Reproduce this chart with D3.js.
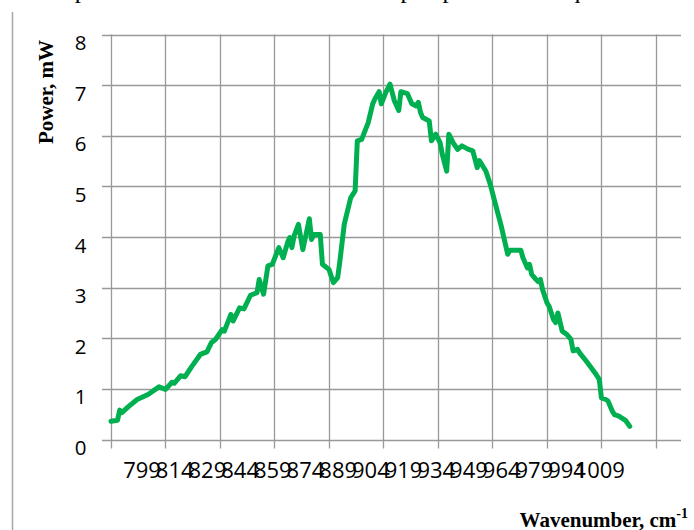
<!DOCTYPE html>
<html>
<head>
<meta charset="utf-8">
<script src="https://cdn.jsdelivr.net/npm/d3@7"></script>
<style>
    html, body { margin: 0; padding: 0; background: #fff; overflow: hidden; }
    svg { display: block; }
</style>
</head>
<body>
<svg id="chart" width="694" height="530"></svg>
<script>
// wavenumber (cm-1) and output power (mW)
let wavenumbers = [785, 788, 789, 790, 793, 797, 802, 807, 810, 813, 814, 817, 819, 822, 826, 829, 831, 833, 836, 837,
    840, 841, 844, 846, 849, 852, 853, 855, 857, 859, 862, 864, 866, 867, 868, 869, 871, 873, 876, 877,
    878, 881, 882, 885, 886, 887, 889, 890, 892, 895, 897, 898, 900, 903, 905, 906, 908, 909, 911, 913,
    915, 917, 918, 921, 923, 925, 926, 927, 928, 931, 932, 934, 936, 937, 939, 940, 942, 944, 946, 949,
    951, 953, 954, 957, 959, 961, 964, 967, 968, 970, 973, 974, 976, 977, 978, 980, 981, 982, 983, 985,
    986, 987, 988, 989, 990, 992, 994, 996, 997, 999, 1000, 1003, 1007, 1009, 1010, 1012, 1013, 1015, 1016, 1018,
    1021, 1023];
let power = [0.36, 0.38, 0.58, 0.53, 0.65, 0.79, 0.89, 1.04, 0.99, 1.13, 1.11, 1.26, 1.24, 1.44, 1.68, 1.73, 1.91, 1.98, 2.17, 2.14,
    2.47, 2.34, 2.60, 2.58, 2.85, 2.90, 3.16, 2.87, 3.43, 3.46, 3.79, 3.59, 3.89, 3.99, 3.79, 4.02, 4.25, 3.75, 4.36, 3.95,
    4.05, 4.05, 3.46, 3.36, 3.23, 3.10, 3.20, 3.52, 4.25, 4.78, 4.91, 5.90, 5.93, 6.26, 6.62, 6.72, 6.87, 6.63, 6.85, 7.02,
    6.69, 6.50, 6.87, 6.83, 6.63, 6.59, 6.66, 6.46, 6.36, 6.29, 5.90, 6.03, 5.86, 5.63, 5.30, 6.03, 5.86, 5.73, 5.80, 5.73,
    5.70, 5.37, 5.51, 5.30, 5.04, 4.71, 4.22, 3.66, 3.74, 3.74, 3.74, 3.59, 3.39, 3.46, 3.26, 3.16, 3.12, 3.16, 2.96, 2.70,
    2.63, 2.50, 2.37, 2.31, 2.50, 2.14, 2.08, 1.98, 1.75, 1.78, 1.71, 1.55, 1.32, 1.19, 0.82, 0.79, 0.76, 0.56, 0.49, 0.46,
    0.38, 0.26];

let xLabels = [799, 814, 829, 844, 859, 874, 889, 904, 919, 934, 949, 964, 979, 994, 1009];
let xGrid = [785, 810, 835, 860, 885, 910, 935, 960, 985, 1010, 1035];
let yTicks = [0, 1, 2, 3, 4, 5, 6, 7, 8];

let svg = d3.select('#chart');

let plot = {left: 111, right: 681, top: 34.5, bottom: 439.5};
let gridColor = '#999';
let labelFont = '"Open Sans", "Noto Sans", sans-serif';

let x = d3.scaleLinear().domain([785, 1046.5]).range([plot.left, plot.right]);
let y = d3.scaleLinear().domain([0, 8]).range([plot.bottom, plot.top]);

// bottom of the body text line that the chart was cut from
svg.append("text")
    .attr("x", 16)
    .attr("y", -2)
    .style("font-family", '"Liberation Serif", "Times New Roman", serif')
    .style("font-size", "25px")
    .style("word-spacing", "4px")
    .text("The spectral characteristic of the output power of a quantum cascade laser");

// page margin line
svg.append("line")
    .attr("x1", 12.5).attr("x2", 12.5)
    .attr("y1", 12).attr("y2", 530)
    .attr("stroke", "#a6a6a6")
    .attr("stroke-width", 1.5);

// grid
svg.append("g")
    .selectAll("line")
    .data(yTicks)
    .enter()
    .append("line")
    .attr("x1", plot.left - 9)
    .attr("x2", plot.right)
    .attr("y1", d => Math.round(y(d)) + 0.5)
    .attr("y2", d => Math.round(y(d)) + 0.5)
    .attr("stroke", gridColor)
    .attr("stroke-width", 1.3);

svg.append("g")
    .selectAll("line")
    .data(xGrid)
    .enter()
    .append("line")
    .attr("x1", d => Math.round(x(d)) + 0.5)
    .attr("x2", d => Math.round(x(d)) + 0.5)
    .attr("y1", plot.top)
    .attr("y2", plot.bottom + 9)
    .attr("stroke", gridColor)
    .attr("stroke-width", 1.3);

// tick labels
let xAxis = d3.axisBottom(x).tickValues(xLabels).tickSize(0).tickPadding(0).tickFormat(d3.format("d"));
let gx = svg.append("g")
    .attr("transform", "translate(0," + plot.bottom + ")")
    .call(xAxis);
gx.select(".domain").remove();
gx.selectAll("text")
    .attr("y", 38.5)
    .attr("dy", null)
    .style("font-family", labelFont)
    .style("font-size", "22px")
    .attr("fill", "#000");

let yAxis = d3.axisLeft(y).tickValues(yTicks).tickSize(0).tickPadding(0);
let gy = svg.append("g")
    .attr("transform", "translate(86.5,0)")
    .call(yAxis);
gy.select(".domain").remove();
gy.selectAll("text")
    .attr("x", 0)
    .attr("dy", 15)
    .style("font-family", labelFont)
    .style("font-size", "20.5px")
    .attr("fill", "#000");

// series
let line = d3.line()
    .x((d, i) => x(wavenumbers[i]))
    .y(d => y(d));

svg.append("path")
    .datum(power)
    .attr("d", line)
    .attr("fill", "none")
    .attr("stroke", "#00b050")
    .attr("stroke-width", 5)
    .attr("stroke-linejoin", "round")
    .attr("stroke-linecap", "round");

// axis titles
svg.append("text")
    .attr("transform", "translate(53,92) rotate(-90)")
    .style("text-anchor", "middle")
    .style("font-family", '"Liberation Serif", "Times New Roman", serif')
    .style("font-weight", "bold")
    .style("font-size", "21px")
    .text("Power, mW");

let xTitle = svg.append("text")
    .attr("x", 688)
    .attr("y", 527)
    .style("text-anchor", "end")
    .style("font-family", '"Liberation Serif", "Times New Roman", serif')
    .style("font-weight", "bold")
    .style("font-size", "21px");
xTitle.append("tspan").text("Wavenumber, cm");
xTitle.append("tspan")
    .attr("dy", -9)
    .style("font-size", "14px")
    .text("-1");
</script>
</body>
</html>
